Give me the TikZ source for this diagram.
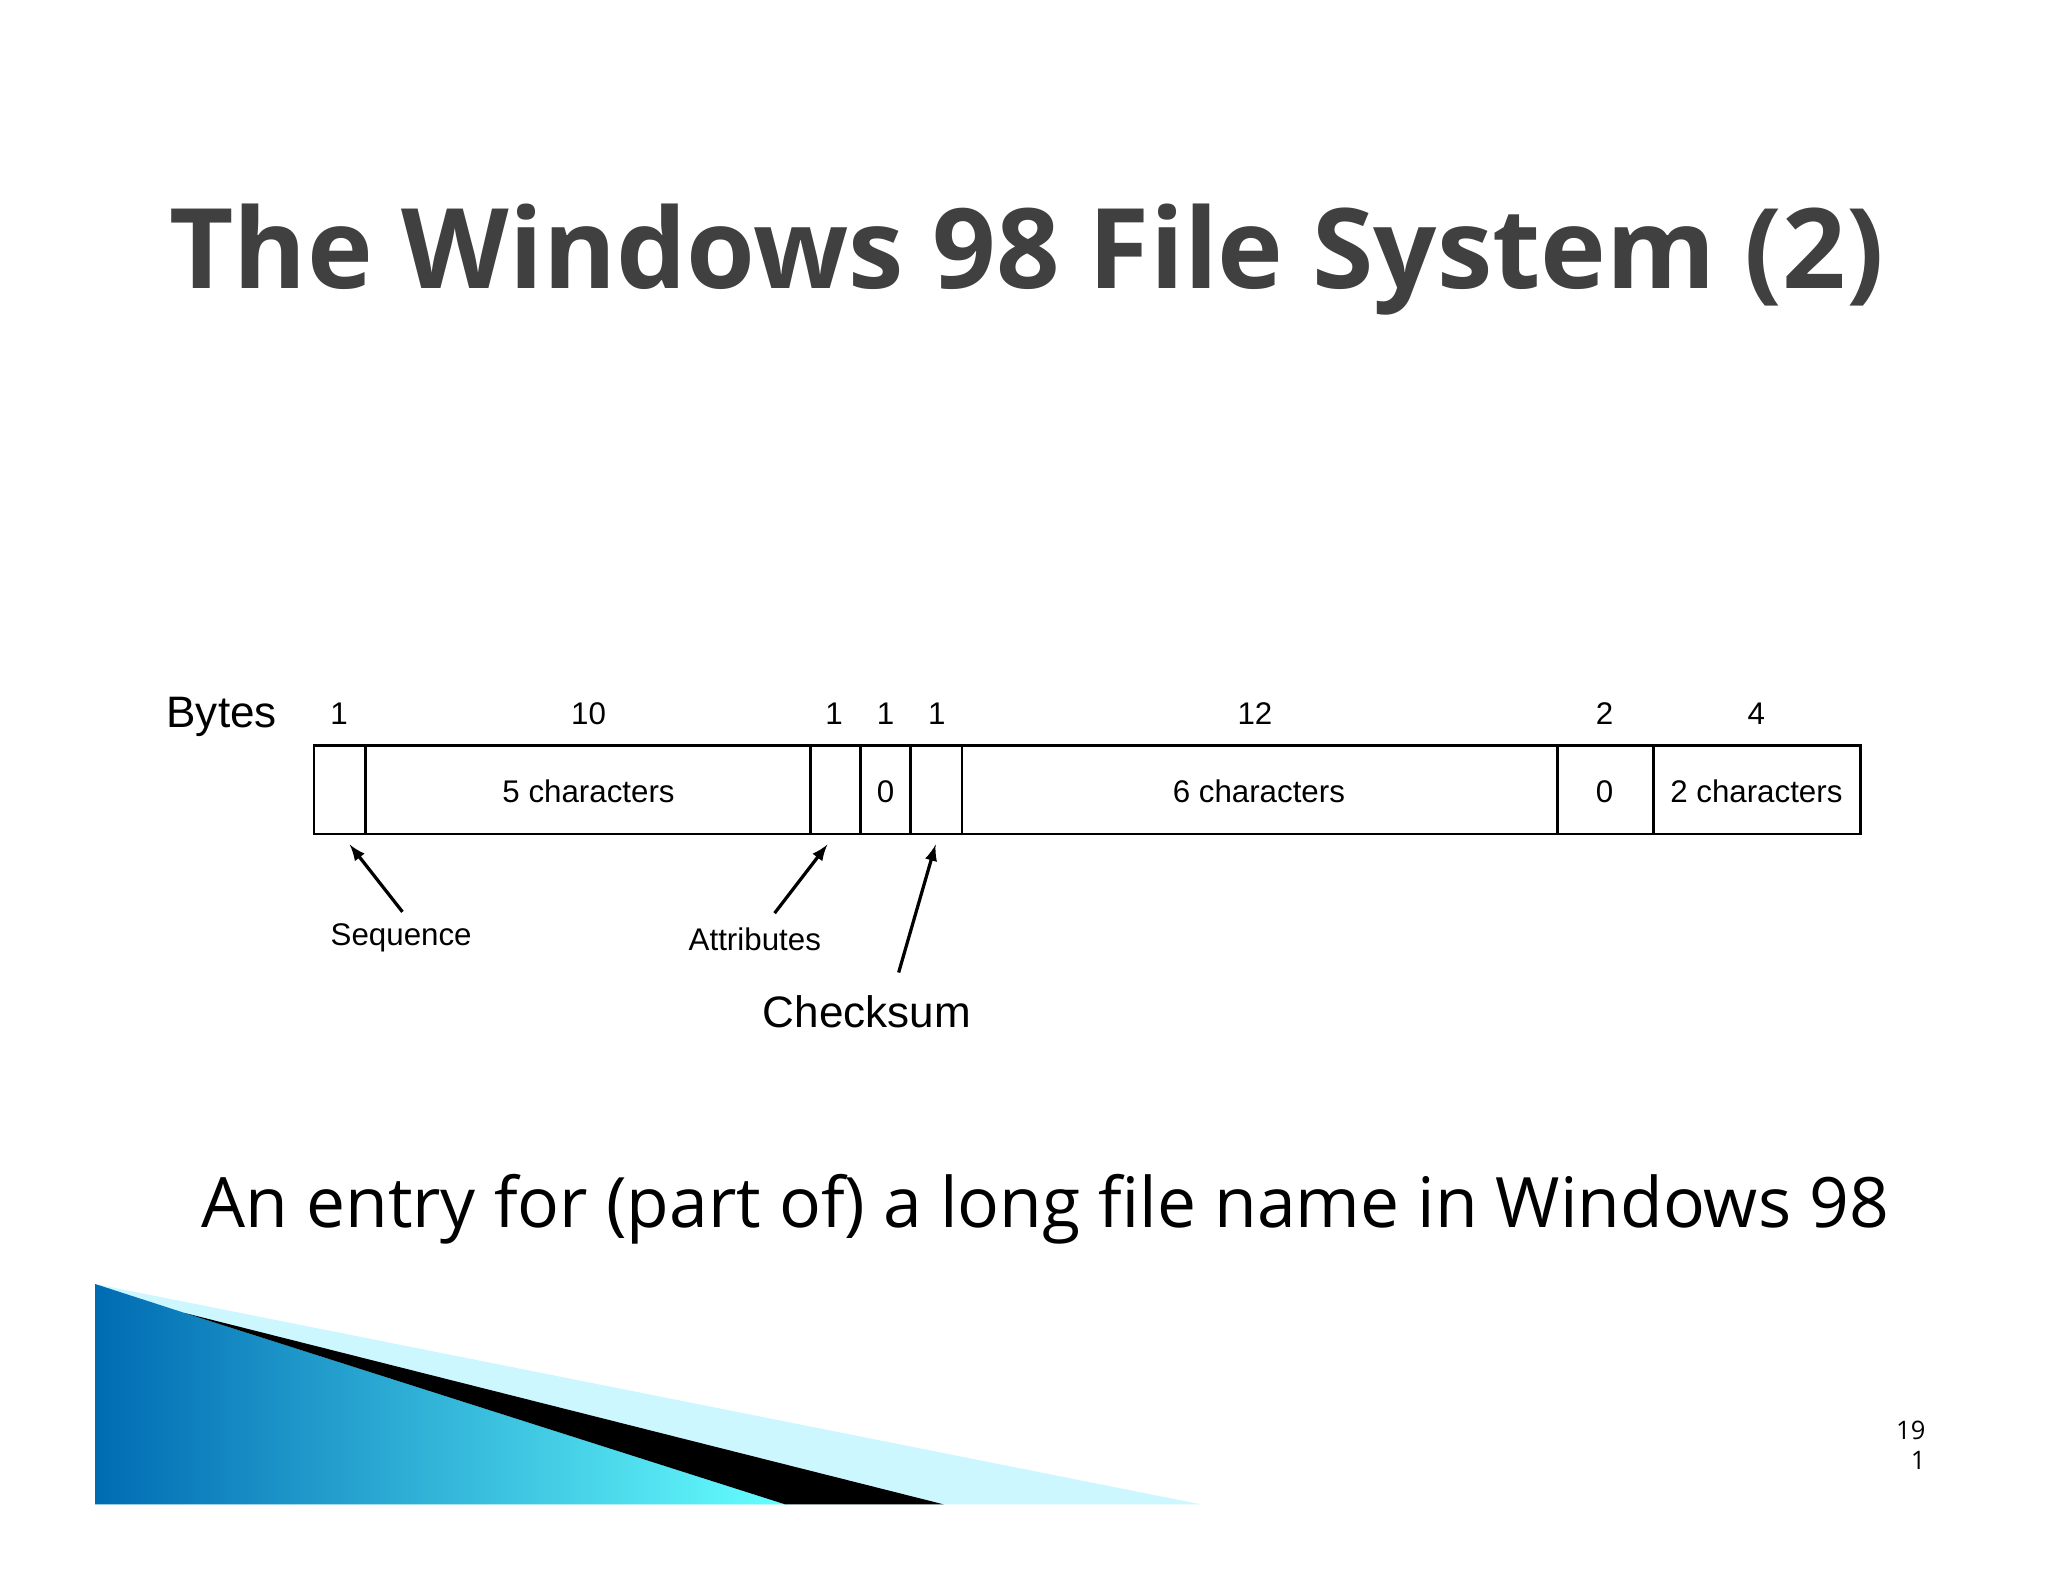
\documentclass[tikz,border=0pt]{standalone}
\usepackage{fontspec}
\setmainfont{Liberation Sans}
\newfontfamily\titlefont{Open Sans}
\begin{document}
\begin{tikzpicture}[x=0.02cm,y=-0.02cm,
  fld/.style={font=\fontsize{13.5}{15}\selectfont},
  lab/.style={font=\fontsize{13.5}{15}\selectfont},
  ar/.style={-latex,line width=1.4pt}]
\useasboundingbox (0,0) rectangle (1552,1199);
% decoration
\fill[blue!15!cyan!20] (72,973) -- (910,1140) -- (72,1140) -- cycle;
\shade[left color=cyan!60!blue!70!black, right color=cyan!60!white] (72,973) -- (140,995) -- (595,1140) -- (72,1140) -- cycle;
\fill[black] (140,995) -- (715,1140) -- (595,1140) -- cycle;
% title
\node[font=\titlefont\fontsize{48}{56}\selectfont\bfseries,text=black!75] (title) at (778,197) {The Windows 98 File System (2)};
% fields
\draw[line width=1.2pt] (238,565) rectangle (1410,632);
\foreach \x in {277,614,652,690,729,1180,1253} \draw[line width=1.2pt] (\x,565) -- (\x,632);
\node[fld] (f2) at (446,600) {5 characters};
\node[fld] (f4) at (671,600) {0};
\node[fld] (f6) at (954,600) {6 characters};
\node[fld] (f7) at (1216,600) {0};
\node[fld] (f8) at (1331,600) {2 characters};
\node[font=\fontsize{19}{22}\selectfont] (bytes) at (168,543) {Bytes};
\foreach \x/\t in {257/1,446/10,632/1,671/1,710/1,951/12,1216/2,1331/4}
  \node[lab] at (\x,541) {\t};
\node[lab] (seq) at (304,711) {Sequence};
\node[lab] (att) at (572,712) {Attributes};
\node[font=\fontsize{19}{22}\selectfont] (chk) at (657,767) {Checksum};
\coordinate (s1) at (265,640); \coordinate (a1) at (627,640); \coordinate (c1) at (709,640);
\draw[ar] (305,691) -- (s1);
\draw[ar] (587,692) -- (a1);
\draw[ar] (681,737) -- (c1);
\node[font=\titlefont\fontsize{30}{36}\selectfont] (cap) at (792,916) {An entry for (part of) a long file name in Windows 98};
\node[font=\titlefont\fontsize{11}{13}\selectfont,align=right] (pg) at (1448,1095) {19\\1};
\end{tikzpicture}
\end{document}
